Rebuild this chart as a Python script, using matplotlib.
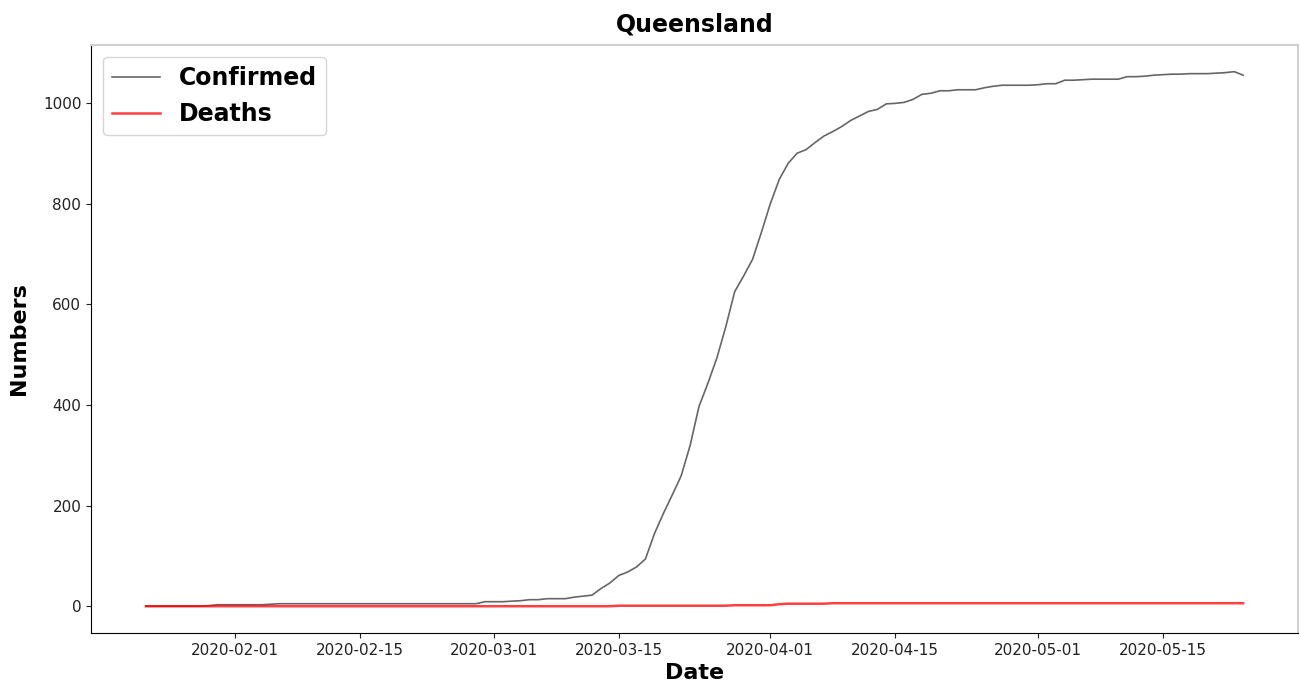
import numpy as np
import pandas as pd
import matplotlib
matplotlib.use('Agg')
from matplotlib import pyplot as plt
import matplotlib.dates as mdates


dates = pd.date_range('2020-01-22', '2020-05-24', freq='D')

confirmed = [
    # Jan 22 - Jan 31
    0, 0, 0, 0, 0, 0, 0, 1, 3, 3,
    # Feb 1 - Feb 29
    3, 3, 3, 3, 4, 5, 5, 5, 5, 5, 5, 5, 5, 5, 5, 5, 5, 5, 5, 5,
    5, 5, 5, 5, 5, 5, 5, 5, 9,
    # Mar 1 - Mar 31
    9, 9, 10, 11, 13, 13, 15, 15, 15, 18, 20, 22, 35, 46, 61, 68,
    78, 94, 144, 184, 221, 259, 319, 397, 443, 493, 555, 625, 656, 689, 743,
    # Apr 1 - Apr 30
    800, 848, 880, 900, 907, 921, 934, 943, 953, 965, 974, 983, 987, 998, 999,
    1001, 1007, 1017, 1019, 1024, 1024, 1026, 1026, 1026, 1030, 1033, 1035,
    1035, 1035, 1035,
    # May 1 - May 24
    1036, 1038, 1038, 1045, 1045, 1046, 1047, 1047, 1047, 1047, 1052, 1052,
    1053, 1055, 1056, 1057, 1057, 1058, 1058, 1058, 1059, 1060, 1062, 1055,
]

deaths = (
    [0] * 53          # Jan 22 - Mar 14
    + [1] * 13        # Mar 15 - Mar 27
    + [2] * 5         # Mar 28 - Apr 1
    + [4]             # Apr 2
    + [5] * 5         # Apr 3 - Apr 7
    + [6] * 47        # Apr 8 - May 24
)

fig = plt.figure(figsize=(13.01, 6.91), dpi=100)
ax = fig.add_axes([0.070, 0.084, 0.9277, 0.851])

ax.plot(dates, confirmed, color='black', alpha=0.6, lw=1.2, label='Confirmed')
ax.plot(dates, deaths, color='red', alpha=0.75, lw=1.8, label='Deaths')

ax.set_title('Queensland', fontsize=17, fontweight='bold', pad=10)
ax.set_xlabel('Date', fontsize=16, fontweight='bold', labelpad=4)
ax.set_ylabel('Numbers', fontsize=16, fontweight='bold', labelpad=10)

ax.xaxis.set_major_locator(mdates.DayLocator(bymonthday=[1, 15]))
ax.xaxis.set_major_formatter(mdates.DateFormatter('%Y-%m-%d'))
ax.set_yticks([0, 200, 400, 600, 800, 1000])
ax.tick_params(labelsize=11, colors='#222222')

for s in ['top', 'right']:
    ax.spines[s].set_color('#d0d0d0')
    ax.spines[s].set_linewidth(1.5)

leg = ax.legend(loc='upper left', prop={'weight': 'bold', 'size': 17})

fig.savefig('out.png', dpi=100)
